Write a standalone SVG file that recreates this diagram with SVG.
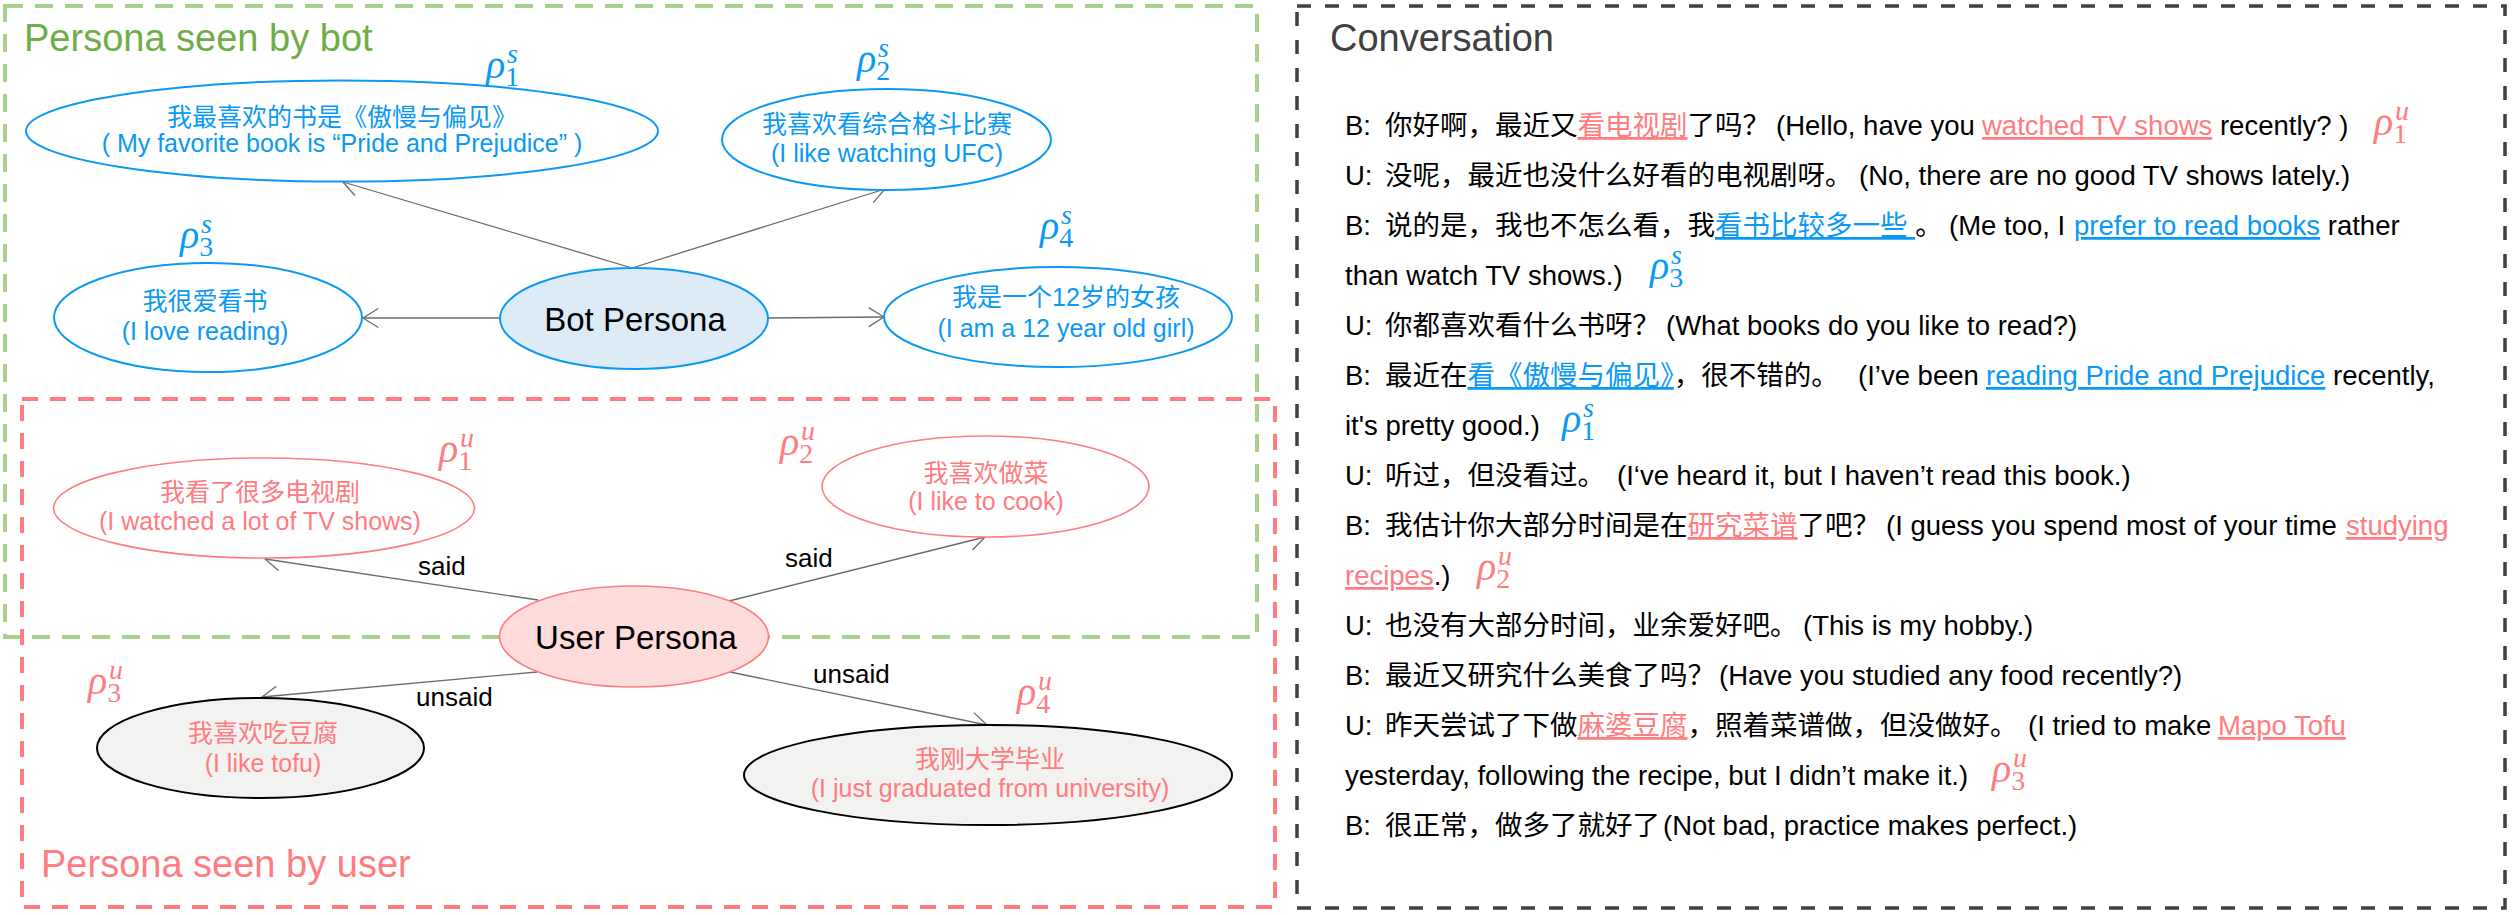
<svg xmlns="http://www.w3.org/2000/svg" width="2514" height="915" viewBox="0 0 2514 915">
<defs>
<marker id="arr" markerUnits="userSpaceOnUse" markerWidth="24" markerHeight="20" refX="20" refY="10" orient="auto" viewBox="0 0 24 20" overflow="visible">
<path d="M4.7,0.5 L20,10 L4.7,19.5" fill="none" stroke="#6b6b6b" stroke-width="1.3"/>
</marker>
</defs>
<style>
.bg{fill:#fff}
.box-green{fill:none;stroke:#A9D18E;stroke-width:4;stroke-dasharray:18 12}
.box-red{fill:none;stroke:#FF7C80;stroke-width:4;stroke-dasharray:16 12}
.box-dark{fill:none;stroke:#404040;stroke-width:3.5;stroke-dasharray:14 14}
.title{font-family:"Liberation Sans",Arial,sans-serif;font-size:38px}
.nt{font-family:"Liberation Sans","Noto Sans CJK SC",sans-serif;font-size:25px;text-anchor:middle}
.big{font-family:"Liberation Sans",Arial,sans-serif;font-size:33px;text-anchor:middle;fill:#000}
.blue{fill:#0A9AF5}
.pink{fill:#FF7C80}
.e-blue{fill:#fff;stroke:#0A9AF5;stroke-width:2}
.e-bot{fill:#DDEBF7;stroke:#0A9AF5;stroke-width:2}
.e-pink{fill:#fff;stroke:#FF7C80;stroke-width:1.6}
.e-user{fill:#FFDCDC;stroke:#FF7C80;stroke-width:1.6}
.e-gray{fill:#F2F2F0;stroke:#000;stroke-width:2}
.conn line{stroke:#6b6b6b;stroke-width:1.3;fill:none;marker-end:url(#arr)}
.lbl{font-family:"Liberation Sans",Arial,sans-serif;font-size:26px;fill:#000}
.rho{font-family:"Liberation Serif","DejaVu Serif",serif;font-size:40px;font-style:italic}
.sub{font-size:28px;font-style:normal}
.sup{font-size:28px;font-style:italic}
.conv{font-family:"Liberation Sans","Noto Sans CJK SC",sans-serif;font-size:27.5px;fill:#000;white-space:pre}
.ul{text-decoration:underline}
</style>
<rect class="bg" x="0" y="0" width="2514" height="915"/>

<g id="frames">
<rect class="box-green" x="5" y="6" width="1252" height="631"/>
<text class="title" x="24" y="51" fill="#70AD47">Persona seen by bot</text>
<rect class="box-red" x="22" y="399" width="1253" height="508"/>
<text class="title" x="41" y="877" fill="#FF7C80">Persona seen by user</text>
<rect class="box-dark" x="1297" y="6" width="1208" height="902"/>
<text class="title" x="1330" y="51" fill="#404040">Conversation</text>
</g>

<g id="connectors" class="conn">
<line x1="632" y1="268" x2="343" y2="182"/>
<line x1="632" y1="268" x2="885" y2="189"/>
<line x1="499" y1="318" x2="363" y2="318"/>
<line x1="768" y1="318" x2="884" y2="317"/>
<line x1="538" y1="600" x2="265" y2="559"/>
<line x1="729" y1="601" x2="985" y2="537"/>
<line x1="537" y1="672" x2="262" y2="697"/>
<line x1="730" y1="672" x2="987" y2="725"/>
<text class="lbl" x="418" y="575">said</text>
<text class="lbl" x="785" y="567">said</text>
<text class="lbl" x="416" y="706">unsaid</text>
<text class="lbl" x="813" y="683">unsaid</text>
</g>

<g id="bot-persona">
<ellipse class="e-bot" cx="634" cy="318.5" rx="134" ry="50.5"/>
<text class="big" x="635" y="331">Bot Persona</text>
</g>
<g id="ps1">
<ellipse class="e-blue" cx="342" cy="131" rx="316" ry="50.5"/>
<text class="nt blue" x="342" y="126">我最喜欢的书是《傲慢与偏见》</text>
<text class="nt blue" x="342" y="152">( My favorite book is “Pride and Prejudice” )</text>
<text class="rho blue" x="486" y="78">ρ<tspan class="sub" dy="8">1</tspan><tspan class="sup" x="507" dy="-23">s</tspan></text>
</g>
<g id="ps2">
<ellipse class="e-blue" cx="886.5" cy="139.5" rx="164.5" ry="50.5"/>
<text class="nt blue" x="887" y="133">我喜欢看综合格斗比赛</text>
<text class="nt blue" x="887" y="162">(I like watching UFC)</text>
<text class="rho blue" x="857" y="72">ρ<tspan class="sub" dy="8">2</tspan><tspan class="sup" x="878" dy="-23">s</tspan></text>
</g>
<g id="ps3">
<ellipse class="e-blue" cx="208" cy="317.5" rx="154" ry="54.5"/>
<text class="nt blue" x="205" y="310">我很爱看书</text>
<text class="nt blue" x="205" y="340">(I love reading)</text>
<text class="rho blue" x="180" y="248">ρ<tspan class="sub" dy="8">3</tspan><tspan class="sup" x="201" dy="-23">s</tspan></text>
</g>
<g id="ps4">
<ellipse class="e-blue" cx="1058" cy="317" rx="174" ry="50"/>
<text class="nt blue" x="1066" y="306">我是一个12岁的女孩</text>
<text class="nt blue" x="1066" y="337">(I am a 12 year old girl)</text>
<text class="rho blue" x="1040" y="239">ρ<tspan class="sub" dy="8">4</tspan><tspan class="sup" x="1061" dy="-23">s</tspan></text>
</g>

<g id="user-persona">
<ellipse class="e-user" cx="634" cy="636.5" rx="134.5" ry="50.5"/>
<text class="big" x="636" y="649">User Persona</text>
</g>
<g id="pu1">
<ellipse class="e-pink" cx="264" cy="508" rx="210.5" ry="50"/>
<text class="nt pink" x="260" y="501">我看了很多电视剧</text>
<text class="nt pink" x="260" y="530">(I watched a lot of TV shows)</text>
<text class="rho pink" x="439" y="462">ρ<tspan class="sub" dy="8">1</tspan><tspan class="sup" x="460" dy="-23">u</tspan></text>
</g>
<g id="pu2">
<ellipse class="e-pink" cx="985.5" cy="486.5" rx="163.5" ry="50.5"/>
<text class="nt pink" x="986" y="482">我喜欢做菜</text>
<text class="nt pink" x="986" y="510">(I like to cook)</text>
<text class="rho pink" x="780" y="455">ρ<tspan class="sub" dy="8">2</tspan><tspan class="sup" x="801" dy="-23">u</tspan></text>
</g>
<g id="pu3">
<ellipse class="e-gray" cx="260.5" cy="748" rx="163.5" ry="50"/>
<text class="nt pink" x="263" y="742">我喜欢吃豆腐</text>
<text class="nt pink" x="263" y="772">(I like tofu)</text>
<text class="rho pink" x="88" y="694">ρ<tspan class="sub" dy="8">3</tspan><tspan class="sup" x="109" dy="-23">u</tspan></text>
</g>
<g id="pu4">
<ellipse class="e-gray" cx="988" cy="775" rx="244" ry="50"/>
<text class="nt pink" x="990" y="768">我刚大学毕业</text>
<text class="nt pink" x="990" y="797">(I just graduated from university)</text>
<text class="rho pink" x="1017" y="705">ρ<tspan class="sub" dy="8">4</tspan><tspan class="sup" x="1038" dy="-23">u</tspan></text>
</g>

<g id="conversation">
<text class="conv" y="135"><tspan x="1345">B:</tspan><tspan x="1385">你好啊，最近又</tspan><tspan class="ul pink">看电视剧</tspan><tspan>了吗？</tspan><tspan x="1776">(Hello, have you </tspan><tspan x="1982" class="ul pink">watched TV shows</tspan><tspan> recently? )</tspan></text>
<text class="rho pink" x="2374" y="135">ρ<tspan class="sub" dy="8">1</tspan><tspan class="sup" x="2395" dy="-23">u</tspan></text>
<text class="conv" y="185"><tspan x="1345">U:</tspan><tspan x="1385">没呢，最近也没什么好看的电视剧呀。</tspan><tspan x="1859">(No, there are no good TV shows lately.)</tspan></text>
<text class="conv" y="235"><tspan x="1345">B:</tspan><tspan x="1385">说的是，我也不怎么看，我</tspan><tspan class="ul blue">看书比较多一些 </tspan><tspan>。</tspan><tspan x="1949">(Me too, I </tspan><tspan x="2074" class="ul blue">prefer to read books</tspan><tspan> rather</tspan></text>
<text class="conv" y="285"><tspan x="1345">than watch TV shows.)</tspan></text>
<text class="rho blue" x="1650" y="279">ρ<tspan class="sub" dy="8">3</tspan><tspan class="sup" x="1671" dy="-23">s</tspan></text>
<text class="conv" y="335"><tspan x="1345">U:</tspan><tspan x="1385">你都喜欢看什么书呀？</tspan><tspan x="1666">(What books do you like to read?)</tspan></text>
<text class="conv" y="385"><tspan x="1345">B:</tspan><tspan x="1385">最近在</tspan><tspan class="ul blue">看《傲慢与偏见》</tspan><tspan>，很不错的。</tspan><tspan x="1858">(I’ve been </tspan><tspan x="1986" class="ul blue">reading Pride and Prejudice</tspan><tspan> recently,</tspan></text>
<text class="conv" y="435"><tspan x="1345">it's pretty good.)</tspan></text>
<text class="rho blue" x="1562" y="432">ρ<tspan class="sub" dy="8">1</tspan><tspan class="sup" x="1583" dy="-23">s</tspan></text>
<text class="conv" y="485"><tspan x="1345">U:</tspan><tspan x="1385">听过，但没看过。</tspan><tspan x="1617">(I‘ve heard it, but I haven’t read this book.)</tspan></text>
<text class="conv" y="535"><tspan x="1345">B:</tspan><tspan x="1385">我估计你大部分时间是在</tspan><tspan class="ul pink">研究菜谱</tspan><tspan>了吧？</tspan><tspan x="1886">(I guess you spend most of your time </tspan><tspan x="2346" class="ul pink">studying</tspan></text>
<text class="conv" y="585"><tspan x="1345" class="ul pink">recipes</tspan><tspan>.)</tspan></text>
<text class="rho pink" x="1477" y="580">ρ<tspan class="sub" dy="8">2</tspan><tspan class="sup" x="1498" dy="-23">u</tspan></text>
<text class="conv" y="635"><tspan x="1345">U:</tspan><tspan x="1385">也没有大部分时间，业余爱好吧。</tspan><tspan x="1803">(This is my hobby.)</tspan></text>
<text class="conv" y="685"><tspan x="1345">B:</tspan><tspan x="1385">最近又研究什么美食了吗？</tspan><tspan x="1719">(Have you studied any food recently?)</tspan></text>
<text class="conv" y="735"><tspan x="1345">U:</tspan><tspan x="1385">昨天尝试了下做</tspan><tspan class="ul pink">麻婆豆腐</tspan><tspan>，照着菜谱做，但没做好。</tspan><tspan x="2028">(I tried to make </tspan><tspan x="2218" class="ul pink">Mapo Tofu</tspan></text>
<text class="conv" y="785"><tspan x="1345">yesterday, following the recipe, but I didn’t make it.)</tspan></text>
<text class="rho pink" x="1992" y="782">ρ<tspan class="sub" dy="8">3</tspan><tspan class="sup" x="2013" dy="-23">u</tspan></text>
<text class="conv" y="835"><tspan x="1345">B:</tspan><tspan x="1385">很正常，做多了就好了</tspan><tspan x="1663">(Not bad, practice makes perfect.)</tspan></text>
</g>
</svg>
